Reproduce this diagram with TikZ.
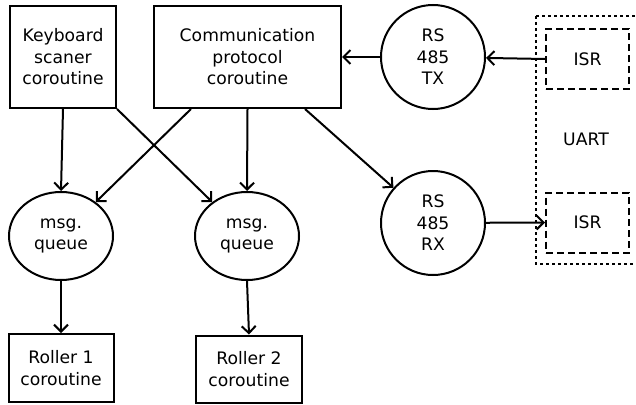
\documentclass[tikz,border=0pt]{standalone}
\usepackage{fontspec}
\setmainfont{DejaVu Sans}
\usetikzlibrary{arrows.meta,shapes.geometric,calc}
\begin{document}
\begin{tikzpicture}[x=1pt,y=-1pt,
  every node/.style={font=\fontsize{17.2}{21.5}\selectfont, align=center, inner sep=0pt},
  box/.style={draw, line width=2pt},
  queue/.style={draw, ellipse, line width=2pt, minimum width=104pt, minimum height=88pt},
  port/.style={draw, circle, line width=2pt, minimum size=104pt},
  isrbox/.style={draw, line width=2pt, dash pattern=on 7pt off 4pt, minimum width=83pt, minimum height=60pt},
  link/.style={line width=2pt, -{Straight Barb[length=7pt,width=14pt,line width=2pt]}}]
\useasboundingbox (0,0) rectangle (636,404);

% coroutines
\node[box, minimum width=106pt, minimum height=102pt] (kb) at (63,57) {Keyboard\\scaner\\coroutine};
\node[box, minimum width=187pt, minimum height=102pt] (comm) at (247.5,57) {Communication\\protocol\\coroutine};
\node[box, minimum width=105pt, minimum height=68pt] (r1) at (61,368) {Roller 1\\coroutine};
\node[box, minimum width=106pt, minimum height=67pt] (r2) at (249,369) {Roller 2\\coroutine};

% message queues
\node[queue] (q1) at (61,236) {msg.\\queue};
\node[queue] (q2) at (247,236) {msg.\\queue};

% RS485 ports
\node[port] (tx) at (433,57) {RS\\485\\TX};
\node[port] (rx) at (433,223) {RS\\485\\RX};

% UART block with its interrupt handlers
\draw[line width=2pt, dash pattern=on 3pt off 3pt] (536,16) -- (640,16) (536,16) -- (536,264) -- (640,264);
\node (uart) at (586,139) {UART};
\node[isrbox] (isr1) at (587.5,59) {ISR};
\node[isrbox] (isr2) at (587.5,222.5) {ISR};

% data flow
\draw[link] (kb.south) -- (q1.north);
\draw[link] (kb.south east) -- (q2);
\coordinate (c1) at ($(comm.south west)+(38,0)$);
\coordinate (c2) at ($(comm.south west)+(152,0)$);
\draw[link] (c1) -- (q1);
\draw[link] (comm.south) -- (q2.north);
\draw[link] (c2) -- (rx);
\draw[link] (q1.south) -- (r1.north);
\draw[link] (q2.south) -- (r2.north);
\draw[link] (tx) -- (comm);
\draw[link] (isr1.west) -- (tx);
\draw[link] (rx) -- (isr2.west);
\end{tikzpicture}
\end{document}
